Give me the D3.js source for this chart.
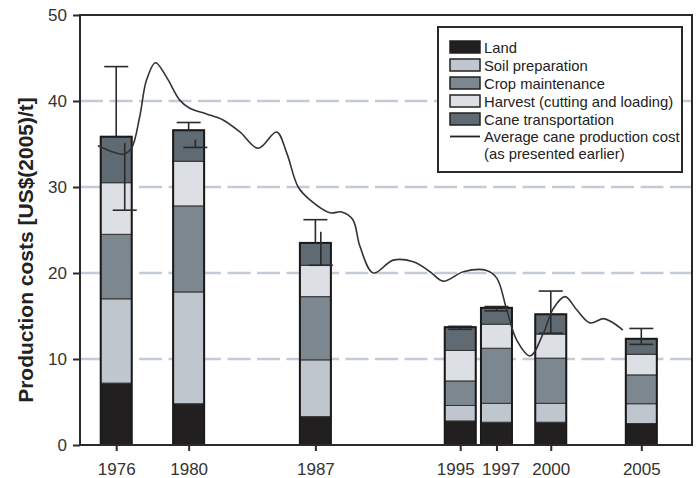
<!DOCTYPE html>
<html><head><meta charset="utf-8">
<script src="https://cdn.jsdelivr.net/npm/d3@7"></script>
<style>body{margin:0;background:#fff}svg{display:block}</style>
</head><body><svg id="c" width="700" height="478"></svg>
<script>
// ---- data ----
const years = [1976, 1980, 1987, 1995, 1997, 2000, 2005];
const seriesNames = ["Land", "Soil preparation", "Crop maintenance", "Harvest (cutting and loading)", "Cane transportation"];
const land      = [7.2, 4.8, 3.3, 2.8, 2.65, 2.65, 2.5];
const soil      = [9.8, 13.0, 6.6, 1.8, 2.2, 2.2, 2.3];
const crop      = [7.5, 10.0, 7.35, 2.85, 6.4, 5.25, 3.35];
const harvest   = [6.0, 5.2, 3.65, 3.55, 2.8, 2.8, 2.4];
const transport = [5.35, 3.6, 2.6, 2.7, 1.9, 2.3, 1.8];
const errHigh     = [44.0, 37.5, 26.2, 13.8, 16.1, 17.9, 13.55];
const errLowYear  = [1976.47, 1980.37, 1987.3, 1995, 1997, 2000, 2005];
const errLowStart = [35.1, 35.5, 24.8, 13.7, 15.9, 15.2, 12.36];
const errLow      = [27.3, 34.6, 20.9, 13.45, 15.6, 13.0, 11.7];
const avgYears = [1974.99, 1975.92, 1976.38, 1976.84, 1977.30, 1977.67, 1978.17, 1978.77, 1979.51, 1980.06,
  1980.99, 1981.90, 1982.83, 1983.84, 1984.86, 1985.41, 1986.05, 1986.70, 1987.80, 1988.45,
  1989.07, 1989.46, 1990.20, 1991.30, 1992.41, 1993.33, 1994.07, 1995.17, 1996.46, 1997.02,
  1997.57, 1998.12, 1998.86, 1999.59, 2000.15, 2000.79, 2001.44, 2002.17, 2002.91, 2003.37, 2003.98];
const avgCost = [34.8, 34.0, 33.8, 34.5, 38.2, 42.4, 44.45, 42.8, 40.1, 39.15,
  38.5, 37.8, 36.4, 34.5, 36.4, 34.0, 30.0, 28.5, 27.0, 27.1,
  26.2, 23.1, 20.0, 21.5, 21.3, 20.15, 19.05, 20.15, 20.3, 19.4,
  15.7, 12.2, 10.35, 13.0, 15.9, 17.25, 15.7, 14.2, 14.7, 14.3, 13.37];
const yTicks = [0, 10, 20, 30, 40, 50];
const lineLabel = ["Average cane production cost", "(as presented earlier)"];
const colors = ["#221f20", "#c0c6ce", "#7c878f", "#dcdfe4", "#5f6a72"];

// ---- chart ----
const svg = d3.select("#c");
const L = 80, R = 692, T = 15, B = 445;
const x = d3.scaleLinear().domain([1974, 2007.8]).range([L, R]);
const y = d3.scaleLinear().domain([0, 50]).range([B, T]);
const barW = 31, capW = 24;
const ink = "#2a2a2a";
const font = "'Liberation Sans', Arial, sans-serif";

// grid
svg.append("g").selectAll("line").data(yTicks.filter(d => d > 0 && d < 50)).join("line")
  .attr("x1", L).attr("x2", R).attr("y1", d => y(d)).attr("y2", d => y(d))
  .attr("stroke", "#c3cbd6").attr("stroke-width", 2.5).attr("stroke-dasharray", "23,6.5");

// stacked bars
const keys = ["land", "soil", "crop", "harvest", "transport"];
const table = years.map((yr, i) => ({year: yr, land: land[i], soil: soil[i], crop: crop[i], harvest: harvest[i], transport: transport[i]}));
const stacked = d3.stack().keys(keys)(table);
const gBars = svg.append("g");
stacked.forEach((s, k) => {
  gBars.append("g").selectAll("rect").data(s).join("rect")
    .attr("x", d => x(d.data.year) - barW / 2)
    .attr("width", barW)
    .attr("y", d => y(d[1]))
    .attr("height", d => y(d[0]) - y(d[1]))
    .attr("fill", colors[k])
    .attr("stroke", "#333").attr("stroke-width", 1);
});
const totals = years.map((yr, i) => land[i] + soil[i] + crop[i] + harvest[i] + transport[i]);
gBars.append("g").selectAll("rect").data(years).join("rect")
  .attr("x", d => x(d) - barW / 2).attr("width", barW)
  .attr("y", (d, i) => y(totals[i])).attr("height", (d, i) => y(0) - y(totals[i]))
  .attr("fill", "none").attr("stroke", "#1a1a1a").attr("stroke-width", 2);

// error bars
const gErr = svg.append("g").attr("stroke", ink).attr("stroke-width", 1.6).attr("fill", "none");
years.forEach((yr, i) => {
  gErr.append("line").attr("x1", x(yr)).attr("x2", x(yr)).attr("y1", y(totals[i])).attr("y2", y(errHigh[i]));
  gErr.append("line").attr("x1", x(yr) - capW / 2).attr("x2", x(yr) + capW / 2).attr("y1", y(errHigh[i])).attr("y2", y(errHigh[i]));
  const lx = x(errLowYear[i]);
  gErr.append("line").attr("x1", lx).attr("x2", lx).attr("y1", y(errLowStart[i])).attr("y2", y(errLow[i]));
  gErr.append("line").attr("x1", lx - capW / 2).attr("x2", lx + capW / 2).attr("y1", y(errLow[i])).attr("y2", y(errLow[i]));
});

// average line
const lineGen = d3.line().x(d => x(d[0])).y(d => y(d[1])).curve(d3.curveCatmullRom.alpha(0.5));
svg.append("path").datum(avgYears.map((yr, i) => [yr, avgCost[i]]))
  .attr("d", lineGen).attr("fill", "none").attr("stroke", "#333").attr("stroke-width", 1.6);

// axes
const yAxis = svg.append("g").attr("transform", `translate(${L},0)`)
  .call(d3.axisLeft(y).tickValues(yTicks).tickSize(7).tickPadding(6));
const xAxis = svg.append("g").attr("transform", `translate(0,${B})`)
  .call(d3.axisBottom(x).tickValues(years).tickFormat(d3.format("d")).tickSize(6).tickPadding(12));
[yAxis, xAxis].forEach(a => {
  a.select(".domain").remove();
  a.selectAll(".tick line").attr("stroke", ink).attr("stroke-width", 2);
  a.selectAll("text").attr("fill", "#333").style("font-family", font).style("font-size", "17px");
});
// nudge crowded labels apart, as in the original
xAxis.selectAll(".tick text").attr("dx", d => d === 1995 ? -5 : d === 1997 ? 4 : 0);

// frame
svg.append("rect").attr("x", L).attr("y", T).attr("width", R - L).attr("height", B - T)
  .attr("fill", "none").attr("stroke", ink).attr("stroke-width", 2);

// y title
svg.append("text").attr("transform", `translate(33,250) rotate(-90)`)
  .attr("text-anchor", "middle").attr("fill", "#222")
  .style("font-family", font).style("font-size", "21px").style("font-weight", "bold")
  .text("Production costs [US$(2005)/t]");

// legend
const lg = svg.append("g");
lg.append("rect").attr("x", 438).attr("y", 27).attr("width", 244).attr("height", 145)
  .attr("fill", "#fff").attr("stroke", ink).attr("stroke-width", 2);
seriesNames.forEach((n, k) => {
  const yy = 41 + k * 18;
  lg.append("rect").attr("x", 450).attr("y", yy).attr("width", 30).attr("height", 12)
    .attr("fill", colors[k]).attr("stroke", "#222").attr("stroke-width", 1.5);
  lg.append("text").attr("x", 484).attr("y", yy + 11.5).attr("fill", "#222")
    .style("font-family", font).style("font-size", "14.8px").text(n);
});
lg.append("line").attr("x1", 450).attr("x2", 480).attr("y1", 136.5).attr("y2", 136.5)
  .attr("stroke", "#222").attr("stroke-width", 1.8);
lineLabel.forEach((t, j) => {
  lg.append("text").attr("x", 484).attr("y", 141.5 + j * 17.5).attr("fill", "#222")
    .style("font-family", font).style("font-size", "14.8px").text(t);
});
</script>
</body></html>
